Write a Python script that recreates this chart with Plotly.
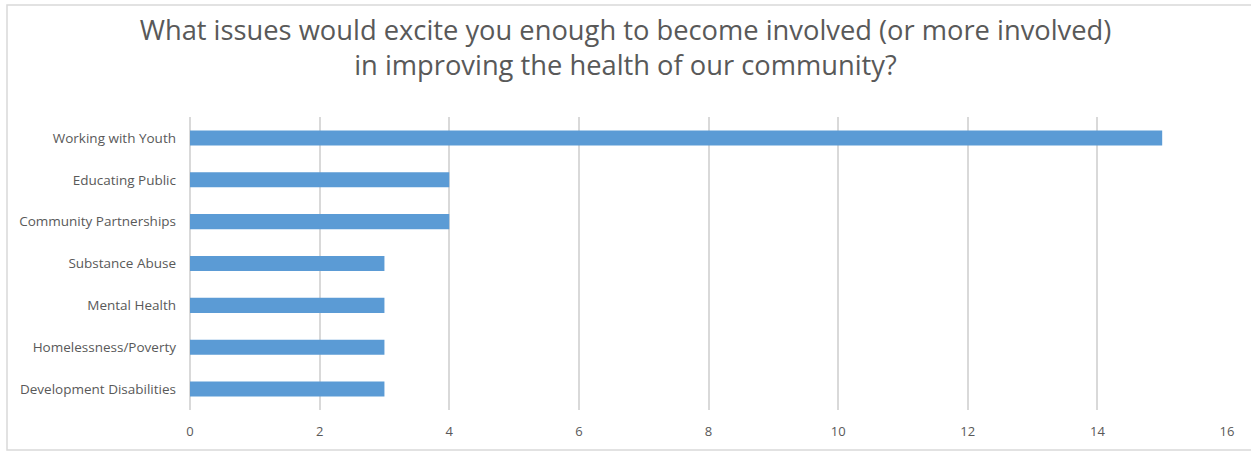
import plotly.graph_objects as go

# Survey responses: issues that would motivate community involvement
issues = [
    "Working with Youth",
    "Educating Public",
    "Community Partnerships",
    "Substance Abuse",
    "Mental Health",
    "Homelessness/Poverty",
    "Development Disabilities",
]
counts = [15, 4, 4, 3, 3, 3, 3]
x_ticks = [0, 2, 4, 6, 8, 10, 12, 14, 16]

W, H = 1251, 451
left, right, top, bottom = 190, 24, 117, 41
plot_w = W - left - right
plot_h = H - top - bottom

text_color = "#595959"
grid_color = "#D9D9D9"
bar_color = "#5B9BD5"
font_family = "Open Sans, Liberation Sans, sans-serif"

fig = go.Figure(
    go.Bar(
        x=counts,
        y=issues,
        orientation="h",
        marker=dict(color=bar_color, line=dict(width=0)),
        hoverinfo="x+y",
    )
)

# outer chart border, in paper units computed from pixel positions
def px_x(px):
    return (px - left) / plot_w

def px_y(py):
    return (H - bottom - py) / plot_h

fig.add_shape(
    type="rect",
    xref="paper", yref="paper",
    x0=px_x(7), x1=px_x(1262), y0=px_y(450), y1=px_y(5),
    line=dict(color=grid_color, width=1.5),
    fillcolor="rgba(0,0,0,0)",
    layer="below",
)

fig.update_layout(
    width=W,
    height=H,
    margin=dict(l=left, r=right, t=top, b=bottom, pad=0),
    paper_bgcolor="white",
    plot_bgcolor="white",
    bargap=0.64,
    showlegend=False,
    font=dict(family=font_family, color=text_color, size=13),
    title=dict(
        text="What issues would excite you enough to become involved (or more involved)<br>in improving the health of our community?",
        x=0.5,
        xref="container",
        xanchor="center",
        y=1 - 40 / H,
        yref="container",
        yanchor="middle",
        font=dict(family=font_family, size=27.3, color=text_color),
    ),
    xaxis=dict(
        range=[0, 16],
        tickvals=x_ticks,
        showgrid=True,
        gridcolor=grid_color,
        gridwidth=1.5,
        zeroline=True,
        zerolinecolor=grid_color,
        zerolinewidth=1.5,
        showline=False,
        ticks="",
        ticklabelstandoff=12,
        tickfont=dict(size=13, color=text_color),
        fixedrange=True,
    ),
    yaxis=dict(
        categoryorder="array",
        categoryarray=issues,
        autorange="reversed",
        showgrid=False,
        showline=False,
        ticks="",
        ticklabelstandoff=13,
        tickfont=dict(size=13.5, color=text_color),
        fixedrange=True,
    ),
)

fig.write_html("out.html")
